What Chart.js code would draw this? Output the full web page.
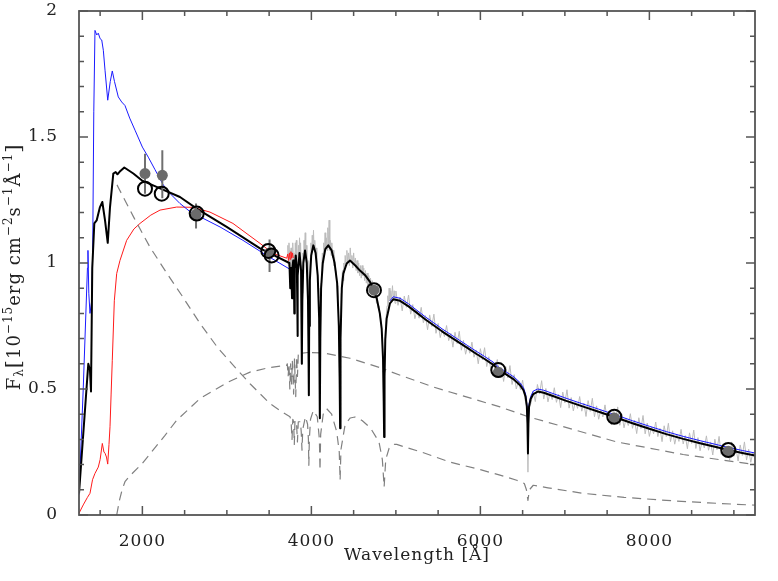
<!DOCTYPE html>
<html><head><meta charset="utf-8">
<script src="https://cdn.jsdelivr.net/npm/chart.js@4.4.1/dist/chart.umd.min.js"></script>
<style>html,body{margin:0;padding:0;background:#fff;}canvas{display:block;}</style>
</head><body>
<canvas id="c" width="778" height="581"></canvas>
<script>
// ---------- DATA (wavelength in Å, flux in 1e-15 erg/cm2/s/Å) ----------
const xMajorTicks = [2000, 4000, 6000, 8000];
const xMinorTicks = [1500, 2500, 3000, 3500, 4500, 5000, 5500, 6500, 7000, 7500, 8500, 9000];
const yMajorTicks = [0, 0.5, 1, 1.5, 2];
const yMinorTicks = [0.1,0.2,0.3,0.4,0.6,0.7,0.8,0.9,1.1,1.2,1.3,1.4,1.6,1.7,1.8,1.9];

const modelTotal = [[1250,0.086],[1360,0.60],[1380,0.575],[1392,0.49],[1400,0.75],[1407,0.98],[1431,1.157],[1459,1.169],[1498,1.222],[1526,1.242],[1558,1.169],[1590,1.08],[1617,1.222],[1656,1.355],[1684,1.361],[1705,1.352],[1730,1.362],[1786,1.379],[1893,1.355],[1992,1.328],[2209,1.296],[2445,1.262],[2643,1.216],[2998,1.143],[3392,1.058],[3500,1.04],[3740,1.0],[3750,0.90],[3755,0.97],[3762,0.98],[3771,0.86],[3776,0.98],[3785,1.01],[3793,0.97],[3798,0.80],[3803,0.98],[3815,1.03],[3828,0.98],[3833,0.85],[3835,0.71],[3840,0.95],[3860,1.04],[3878,0.97],[3885,0.80],[3889,0.60],[3893,0.85],[3905,1.00],[3925,1.05],[3945,1.00],[3960,0.85],[3966,0.65],[3970,0.475],[3974,0.75],[3982,0.93],[3998,1.03],[4023,1.07],[4050,1.04],[4075,0.95],[4092,0.78],[4098,0.60],[4102,0.384],[4106,0.70],[4115,0.90],[4135,1.00],[4165,1.055],[4200,1.07],[4240,1.05],[4275,1.00],[4305,0.92],[4325,0.75],[4334,0.55],[4340,0.344],[4345,0.70],[4360,0.90],[4378,0.958],[4418,0.998],[4457,1.01],[4520,0.99],[4575,0.97],[4640,0.95],[4694,0.925],[4740,0.89],[4773,0.86],[4810,0.80],[4832,0.74],[4848,0.62],[4856,0.45],[4861,0.31],[4866,0.55],[4875,0.70],[4891,0.78],[4930,0.84],[4969,0.856],[5050,0.850],[5150,0.828],[5250,0.802],[5350,0.776],[5450,0.752],[5550,0.728],[5650,0.706],[5750,0.684],[5850,0.662],[5950,0.640],[6050,0.619],[6150,0.597],[6212,0.578],[6300,0.559],[6400,0.537],[6470,0.515],[6510,0.495],[6535,0.47],[6550,0.43],[6558,0.36],[6563,0.244],[6568,0.36],[6576,0.43],[6595,0.46],[6626,0.48],[6680,0.49],[6750,0.485],[6850,0.473],[7000,0.455],[7200,0.432],[7400,0.41],[7585,0.389],[7800,0.364],[8000,0.342],[8200,0.321],[8400,0.302],[8600,0.285],[8800,0.269],[8934,0.258],[9100,0.246],[9250,0.236]];

const modelBlue = [[1250,0.08],[1300,0.50],[1350,0.98],[1356,1.05],[1366,0.88],[1380,0.80],[1400,0.85],[1412,1.05],[1425,1.60],[1439,1.923],[1460,1.905],[1478,1.912],[1500,1.89],[1519,1.885],[1538,1.844],[1558,1.765],[1590,1.646],[1620,1.72],[1644,1.762],[1670,1.72],[1715,1.659],[1755,1.639],[1794,1.625],[1850,1.575],[1913,1.527],[2000,1.46],[2070,1.42],[2150,1.37],[2247,1.31],[2330,1.275],[2445,1.236],[2560,1.205],[2643,1.19],[2919,1.143],[3190,1.09],[3471,1.03],[3747,0.975],[3760,0.96],[3800,null],[4930,0.85],[4969,0.866],[5050,0.86],[5150,0.838],[5250,0.812],[5350,0.786],[5450,0.762],[5550,0.738],[5650,0.716],[5750,0.694],[5850,0.672],[5950,0.650],[6050,0.629],[6150,0.607],[6212,0.588],[6300,0.569],[6400,0.547],[6470,0.525],[6510,0.505],[6535,0.48],[6550,0.44],[6558,0.37],[6563,0.27],[6568,0.37],[6576,0.44],[6595,0.47],[6626,0.492],[6680,0.50],[6750,0.495],[6850,0.483],[7000,0.465],[7200,0.442],[7400,0.42],[7585,0.399],[7800,0.374],[8000,0.352],[8200,0.331],[8400,0.312],[8600,0.295],[8800,0.279],[8934,0.268],[9100,0.256],[9250,0.246]];

const modelRed = [[1250,0.007],[1300,0.04],[1350,0.07],[1380,0.086],[1410,0.14],[1439,0.165],[1478,0.19],[1500,0.22],[1526,0.284],[1545,0.25],[1558,0.245],[1575,0.23],[1590,0.202],[1605,0.28],[1617,0.35],[1630,0.48],[1644,0.614],[1668,0.85],[1696,0.958],[1735,1.01],[1814,1.09],[1900,1.135],[1972,1.157],[2100,1.19],[2209,1.21],[2406,1.222],[2599,1.221],[2800,1.202],[3072,1.157],[3392,1.078],[3546,1.038],[3708,1.019],[3720,1.035],[3730,1.01],[3740,1.04],[3748,1.015],[3758,1.045],[3766,1.02],[3775,1.04],[3785,1.02]];

const componentHot = [[1700,1.31],[1715,1.30],[1900,1.18],[2090,1.063],[2288,0.96],[2465,0.872],[2682,0.76],[2900,0.66],[3100,0.585],[3274,0.521],[3510,0.442],[3650,0.41],[3747,0.39],[3760,0.37],[3771,0.30],[3780,0.38],[3790,0.37],[3798,0.28],[3806,0.376],[3825,0.36],[3835,0.29],[3845,0.37],[3870,0.37],[3880,0.33],[3889,0.257],[3898,0.34],[3930,0.39],[3955,0.36],[3965,0.30],[3970,0.197],[3976,0.30],[3990,0.38],[4023,0.415],[4070,0.39],[4095,0.30],[4102,0.177],[4110,0.32],[4140,0.40],[4181,0.422],[4240,0.40],[4300,0.33],[4330,0.25],[4340,0.138],[4350,0.26],[4400,0.36],[4460,0.385],[4516,0.389],[4600,0.375],[4700,0.345],[4800,0.29],[4840,0.22],[4861,0.111],[4880,0.22],[4920,0.265],[4980,0.28],[5010,0.28],[5300,0.25],[5640,0.21],[6000,0.18],[6232,0.158],[6430,0.138],[6520,0.125],[6545,0.10],[6563,0.058],[6580,0.10],[6626,0.118],[6800,0.108],[7214,0.086],[7700,0.07],[8200,0.058],[8700,0.048],[9250,0.039]];

const componentCool = [[1696,0.0],[1730,0.06],[1760,0.10],[1794,0.132],[1850,0.155],[2000,0.205],[2268,0.316],[2406,0.376],[2682,0.462],[3000,0.525],[3274,0.567],[3500,0.585],[3708,0.594],[3715,0.60],[3725,0.55],[3735,0.60],[3745,0.50],[3755,0.60],[3765,0.52],[3775,0.61],[3790,0.48],[3800,0.62],[3815,0.47],[3825,0.63],[3835,0.55],[3845,0.635],[3866,0.641],[3885,0.64],[3889,0.60],[3893,0.642],[3966,0.645],[3970,0.61],[3974,0.645],[4141,0.643],[4457,0.622],[4840,0.582],[4861,0.56],[4875,0.578],[4891,0.574],[5443,0.508],[5640,0.488],[6232,0.429],[6567,0.39],[7613,0.29],[8400,0.24],[9250,0.20]];

const observedSpectrum = [[3715,1.03],[3722,1.07],[3728,0.99],[3735,1.08],[3742,1.01],[3747,1.05],[3750,0.90],[3755,1.01],[3760,1.06],[3766,0.97],[3771,0.86],[3777,1.02],[3782,1.08],[3788,0.99],[3793,1.04],[3798,0.80],[3804,1.01],[3810,1.08],[3816,1.02],[3822,1.09],[3828,1.00],[3833,0.90],[3835,0.71],[3841,0.97],[3847,1.07],[3853,1.03],[3860,1.10],[3866,1.04],[3872,1.08],[3878,0.99],[3884,0.86],[3889,0.60],[3894,0.88],[3900,1.04],[3907,1.00],[3913,1.09],[3920,1.05],[3927,1.12],[3933,1.04],[3940,1.07],[3947,0.99],[3954,1.01],[3960,0.88],[3966,0.70],[3970,0.475],[3975,0.78],[3981,0.97],[3988,1.02],[3995,1.08],[4003,1.04],[4010,1.11],[4018,1.06],[4025,1.13],[4032,1.05],[4040,1.09],[4048,1.03],[4056,1.06],[4064,0.98],[4072,0.97],[4080,0.90],[4088,0.86],[4095,0.72],[4102,0.384],[4108,0.76],[4115,0.92],[4122,0.97],[4130,1.04],[4138,1.00],[4146,1.08],[4154,1.04],[4162,1.12],[4170,1.06],[4178,1.10],[4186,1.05],[4194,1.14],[4202,1.07],[4210,1.17],[4218,1.05],[4226,1.09],[4234,1.03],[4242,1.08],[4250,1.02],[4258,1.05],[4266,0.99],[4274,1.03],[4282,0.97],[4290,0.96],[4298,0.93],[4306,0.91],[4314,0.86],[4322,0.79],[4330,0.65],[4340,0.344],[4346,0.72],[4353,0.88],[4360,0.93],[4368,0.97],[4376,0.93],[4384,1.00],[4392,0.96],[4400,1.03],[4410,0.99],[4420,1.05],[4430,1.00],[4440,1.04],[4450,0.99],[4460,1.06],[4470,1.01],[4480,1.03],[4490,0.98],[4500,1.04],[4510,0.99],[4520,1.02],[4530,0.97],[4540,1.01],[4550,0.96],[4560,1.00],[4570,0.95],[4580,0.99],[4590,0.94],[4600,0.99],[4610,0.95],[4620,0.98],[4630,0.93],[4640,0.97],[4650,0.92],[4660,0.96],[4670,0.91],[4680,0.95],[4690,0.90],[4700,0.94],[4710,0.89],[4720,0.93],[4730,0.88],[4740,0.91],[4750,0.87],[4760,0.89],[4770,0.84],[4780,0.87],[4790,0.82],[4800,0.83],[4810,0.79],[4820,0.78],[4830,0.73],[4840,0.70],[4848,0.60],[4855,0.45],[4861,0.31],[4866,0.55],[4872,0.70],[4880,0.76],[4888,0.80],[4896,0.83],[4904,0.87],[4912,0.84],[4920,0.90],[4930,0.85],[4940,0.89],[4950,0.86],[4960,0.91],[4970,0.85],[4980,0.89],[4990,0.84],
[5000,0.889],[5025,0.832],[5050,0.865],[5075,0.810],[5100,0.869],[5125,0.824],[5150,0.873],[5175,0.797],[5200,0.835],[5225,0.779],[5250,0.812],[5275,0.781],[5300,0.824],[5325,0.763],[5350,0.791],[5375,0.735],[5400,0.794],[5425,0.748],[5450,0.797],[5475,0.721],[5500,0.760],[5525,0.704],[5550,0.738],[5575,0.708],[5600,0.752],[5625,0.692],[5650,0.721],[5675,0.666],[5700,0.725],[5725,0.680],[5750,0.729],[5775,0.654],[5800,0.693],[5825,0.638],[5850,0.672],[5875,0.642],[5900,0.686],[5925,0.626],[5950,0.655],[5975,0.600],[6000,0.660],[6025,0.615],[6050,0.664],[6075,0.589],[6100,0.628],[6125,0.573],[6150,0.607],[6175,0.575],[6200,0.617],[6225,0.556],[6250,0.585],[6275,0.530],[6300,0.589],[6325,0.544],[6350,0.593],[6375,0.518],[6400,0.557],[6425,0.500],[6450,0.532],[6475,0.497],[6500,0.535],[6530,0.455],[6550,0.43],[6563,0.17],[6576,0.42],[6600,0.445],[6625,0.490],[6650,0.450],[6675,0.518],[6700,0.480],[6725,0.533],[6750,0.460],[6775,0.502],[6800,0.449],[6825,0.486],[6850,0.458],[6875,0.505],[6900,0.447],[6925,0.479],[6950,0.426],[6975,0.488],[7000,0.445],[7025,0.497],[7050,0.424],[7075,0.466],[7100,0.413],[7125,0.451],[7150,0.423],[7175,0.470],[7200,0.412],[7225,0.444],[7250,0.391],[7275,0.454],[7300,0.411],[7325,0.463],[7350,0.390],[7375,0.433],[7400,0.380],[7425,0.417],[7450,0.389],[7475,0.437],[7500,0.379],[7525,0.411],[7550,0.358],[7575,0.420],[7600,0.377],[7625,0.429],[7650,0.356],[7675,0.399],[7700,0.346],[7725,0.383],[7750,0.355],[7775,0.402],[7800,0.344],[7825,0.376],[7850,0.323],[7875,0.386],[7900,0.343],[7925,0.395],[7950,0.322],[7975,0.365],[8000,0.312],[8025,0.350],[8050,0.322],[8075,0.369],[8100,0.311],[8125,0.344],[8150,0.291],[8175,0.354],[8200,0.311],[8225,0.364],[8250,0.291],[8275,0.334],[8300,0.281],[8325,0.319],[8350,0.292],[8375,0.340],[8400,0.282],[8425,0.315],[8450,0.263],[8475,0.326],[8500,0.284],[8525,0.337],[8550,0.264],[8575,0.307],[8600,0.255],[8625,0.293],[8650,0.266],[8675,0.314],[8700,0.257],[8725,0.290],[8750,0.238],[8775,0.301],[8800,0.259],[8825,0.312],[8850,0.240],[8875,0.283],[8900,0.231],[8925,0.269],[8950,0.217],[8975,0.290],[9000,0.233],[9025,0.266],[9050,0.214],[9075,0.278],[9100,0.236],[9125,0.290],[9150,0.218],[9175,0.261],[9200,0.209],[9225,0.248],[9250,0.221]];

const photWave  = [2031, 2236, 2635, 3505, 4741, 6212, 7585, 8934];
const photFlux  = [1.355, 1.348, 1.193, 1.04, 0.892, 0.566, 0.385, 0.253];
const photErrLo = [1.275, 1.257, 1.137, 0.964, null, null, null, null];
const photErrHi = [1.434, 1.447, 1.236, 1.093, null, null, null, null];

const synWave = [2031, 2229, 2643, 3490, 3530, 4741, 6212, 7585, 8934];
const synFlux = [1.295, 1.275, 1.196, 1.048, 1.03, 0.892, 0.575, 0.39, 0.258];

// ---------- build datasets ----------
const toXY = arr => arr.map(p => ({x: p[0], y: p[1]}));
const errSegs = [];
photWave.forEach((w, i) => {
  if (photErrLo[i] === null) return;
  errSegs.push({x: w, y: photErrLo[i]}, {x: w, y: photErrHi[i]}, {x: w, y: null});
});

const lineBase = {pointRadius: 0, pointHoverRadius: 0, tension: 0, fill: false, spanGaps: false, borderJoinStyle: 'round'};

const FONT = "'DejaVu Serif', serif";

const decor = {
  id: 'decor',
  beforeDraw(chart) { chart.ctx.letterSpacing = '1px'; },
  afterDatasetsDraw(chart) {
    const {ctx, chartArea: a, scales: {x, y}} = chart;
    ctx.save();
    ctx.strokeStyle = '#555';
    ctx.lineWidth = 1.5;
    ctx.beginPath();
    const tx = (v, len) => { const p = x.getPixelForValue(v); ctx.moveTo(p, a.bottom); ctx.lineTo(p, a.bottom - len); ctx.moveTo(p, a.top); ctx.lineTo(p, a.top + len); };
    const ty = (v, len) => { const p = y.getPixelForValue(v); ctx.moveTo(a.left, p); ctx.lineTo(a.left + len, p); ctx.moveTo(a.right, p); ctx.lineTo(a.right - len, p); };
    xMajorTicks.forEach(v => tx(v, 9));
    xMinorTicks.forEach(v => tx(v, 5));
    yMajorTicks.forEach(v => ty(v, 9));
    yMinorTicks.forEach(v => ty(v, 5));
    ctx.stroke();
    ctx.lineWidth = 1.8;
    ctx.strokeRect(a.left, a.top, a.right - a.left, a.bottom - a.top);
    ctx.restore();
  },
  afterDraw(chart) {
    const ctx = chart.ctx;
    ctx.save();
    ctx.letterSpacing = '1px';
    ctx.fillStyle = '#222';
    ctx.textBaseline = 'middle';
    ctx.textAlign = 'center';
    ctx.font = "17px " + FONT;
    ctx.fillText('Wavelength [Å]', 417, 556);
    // y title
    ctx.translate(15, 267);
    ctx.rotate(-Math.PI / 2);
    ctx.textAlign = 'left';
    const parts = [['F',18,0],['λ',12,5],['[',21,0],['10',18,0],['−15',12,-6],['erg cm',18,0],['−2',12,-6],['s',18,0],['−1',12,-6],['Å',18,0],['−1',12,-6],[']',21,0]];
    let total = 0;
    parts.forEach(p => { ctx.font = p[1] + 'px ' + FONT; p.w = ctx.measureText(p[0]).width; total += p.w; });
    let cx = -total / 2;
    parts.forEach(p => { ctx.font = p[1] + 'px ' + FONT; ctx.fillText(p[0], cx, p[2]); cx += p.w; });
    ctx.restore();
  }
};

new Chart(document.getElementById('c'), {
  type: 'line',
  data: {
    datasets: [
      Object.assign({data: toXY(observedSpectrum), borderColor: '#bcbcbc', borderWidth: 1, order: 9}, lineBase),
      Object.assign({data: toXY(modelRed), borderColor: '#ff1a1a', borderWidth: 1, order: 8}, lineBase),
      Object.assign({data: toXY(modelBlue), borderColor: '#1a1aff', borderWidth: 1, order: 7}, lineBase),
      Object.assign({data: toXY(componentCool), borderColor: '#808080', borderWidth: 1.2, borderDash: [9, 6], order: 6}, lineBase),
      Object.assign({data: toXY(componentHot), borderColor: '#808080', borderWidth: 1.2, borderDash: [9, 6], order: 5}, lineBase),
      Object.assign({data: toXY(modelTotal), borderColor: '#000', borderWidth: 2, order: 4}, lineBase),
      Object.assign({data: errSegs, borderColor: '#707070', borderWidth: 2, order: 3}, lineBase),
      {data: photWave.map((w, i) => ({x: w, y: photFlux[i]})), showLine: false, pointRadius: 5.5, pointHoverRadius: 5.5, pointBackgroundColor: '#6b6b6b', pointBorderWidth: 0, order: 2},
      {data: synWave.map((w, i) => ({x: w, y: synFlux[i]})), showLine: false, pointRadius: 7, pointHoverRadius: 7, pointBackgroundColor: 'rgba(0,0,0,0)', pointBorderColor: '#000', pointBorderWidth: 2, order: 1}
    ]
  },
  options: {
    responsive: false,
    animation: false,
    devicePixelRatio: 1,
    events: [],
    layout: {padding: {left: 0, right: 23, top: 11, bottom: 0}},
    plugins: {legend: {display: false}, tooltip: {enabled: false}},
    scales: {
      x: {
        type: 'linear', min: 1250, max: 9250,
        grid: {display: false}, border: {display: false},
        afterBuildTicks: s => { s.ticks = xMajorTicks.map(v => ({value: v})); },
        afterFit: s => { s.height = 66; s.paddingLeft = 0; s.paddingRight = 0; },
        ticks: {color: '#222', font: {family: FONT, size: 17}, padding: 8, maxRotation: 0, callback: v => String(v)}
      },
      y: {
        min: 0, max: 2,
        grid: {display: false}, border: {display: false},
        afterBuildTicks: s => { s.ticks = yMajorTicks.map(v => ({value: v})); },
        afterFit: s => { s.width = 79; s.paddingTop = 0; s.paddingBottom = 0; },
        ticks: {color: '#222', font: {family: FONT, size: 17}, padding: 13, callback: v => String(v)}
      }
    }
  },
  plugins: [decor]
});
</script>
</body></html>
